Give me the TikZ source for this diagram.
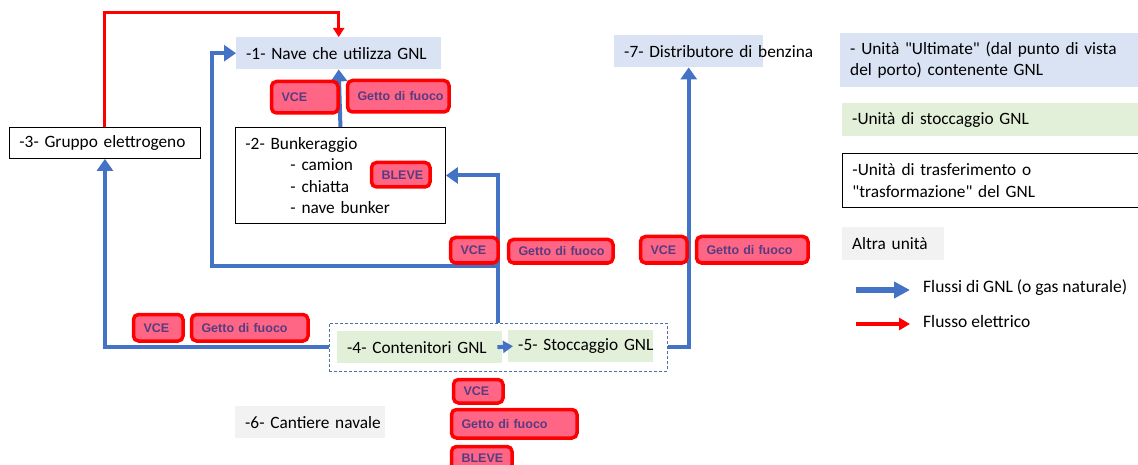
\documentclass[tikz,border=0pt]{standalone}
\usepackage{fontspec}
\setmainfont{Carlito}[Ligatures=TeXOff]
\newfontfamily\hzfont{Liberation Sans}
\usetikzlibrary{arrows.meta}

\definecolor{gnlblue}{HTML}{4472C4}
\definecolor{ultfill}{HTML}{DAE3F3}
\definecolor{stofill}{HTML}{E2F0D9}
\definecolor{othfill}{HTML}{F2F2F2}
\definecolor{hzfill}{HTML}{FF6685}
\definecolor{hztext}{HTML}{573C82}
\definecolor{grpline}{HTML}{4F6FA8}

\tikzset{
  unitbox/.style={anchor=north west, inner xsep=10pt, inner ysep=0pt, align=left,
    font=\fontsize{17.3}{21.5}\selectfont},
  ultimate/.style={unitbox, fill=ultfill},
  storage/.style={unitbox, fill=stofill},
  transfer/.style={unitbox, draw=black, line width=0.9pt, fill=white},
  other/.style={unitbox, fill=othfill},
  hz/.style={anchor=north west, draw=red, line width=3.5pt, fill=hzfill, rounded corners=5pt,
    inner xsep=10pt, inner ysep=0pt, align=left, text=hztext,
    font=\hzfont\bfseries\fontsize{12.5}{14}\selectfont},
  grpbox/.style={anchor=north west, draw=grpline, line width=0.8pt, dash pattern=on 3pt off 2pt, inner sep=0pt},
  flow/.style={draw=gnlblue, line width=4pt, -{Triangle[width=16pt,length=12pt]}},
  elec/.style={draw=red, line width=3pt, -{Triangle[width=11pt,length=9pt]}},
  legtext/.style={anchor=west, inner sep=0pt, font=\fontsize{17.5}{21.5}\selectfont},
}

% unit box given by its corners: style, name, x1, y1, x2, y2, text
\newcommand\unitnode[7]{%
  \pgfmathsetlengthmacro\uW{(#5)-(#3)}%
  \pgfmathsetlengthmacro\uH{(#6)-(#4)}%
  \pgfmathsetlengthmacro\uT{(#5)-(#3)-20}%
  \node[#1, minimum width=\uW, minimum height=\uH, text width=\uT] (#2) at (#3,#4) {#7};}

% hazard tag given by its outer corners: name, x1, y1, x2, y2, text
\newcommand\hazard[6]{%
  \pgfmathsetlengthmacro\hW{(#4)-(#2)-3.5}%
  \pgfmathsetlengthmacro\hH{(#5)-(#3)-3.5}%
  \pgfmathsetlengthmacro\hT{(#4)-(#2)-3.5-20}%
  \node[hz, minimum width=\hW, minimum height=\hH, text width=\hT] (#1) at ({#2+1.75},{#3+1.75}) {\raisebox{-1.5pt}{\mbox{#6}}};}

\begin{document}
\begin{tikzpicture}[x=1pt, y=-1pt]
\useasboundingbox (0,0) rectangle (1138,465);

% port units
\unitnode{ultimate}{n1}{236}{37}{441}{69}{\mbox{-1- Nave che utilizza GNL}}
\unitnode{transfer}{n2}{235}{127}{445}{223}{\mbox{-2- Bunkeraggio}\\\hspace*{45pt}\mbox{- camion}\\\hspace*{45pt}\mbox{- chiatta}\\\hspace*{45pt}\mbox{- nave bunker}}
\unitnode{transfer}{n3}{9}{127}{200}{158}{\mbox{-3- Gruppo elettrogeno}}
\node[grpbox, minimum width=338pt, minimum height=48pt] (grp) at (329,323) {};
\unitnode{storage}{n4}{337}{331}{502}{363}{\mbox{-4- Contenitori GNL}}
\unitnode{storage}{n5}{508}{330}{653}{362}{\mbox{-5- Stoccaggio GNL}}
\unitnode{other}{n6}{235}{406}{385}{438}{\mbox{-6- Cantiere navale}}
\unitnode{ultimate}{n7}{614}{35}{763}{67}{\mbox{-7- Distributore di benzina}}

% legend boxes
\unitnode{ultimate}{l1}{840}{33}{1138}{87}{\mbox{- Unità "Ultimate" (dal punto di vista}\\\mbox{del porto) contenente GNL}}
\unitnode{storage}{l2}{842}{103}{1138}{136}{\mbox{-Unità di stoccaggio GNL}}
\unitnode{transfer}{l3}{842}{153}{1142}{207}{\mbox{-Unità di trasferimento o}\\\mbox{"trasformazione" del GNL}}
\unitnode{other}{l4}{842}{227}{944}{260}{\mbox{Altra unità}}

% electric supply
\coordinate (etop) at (0,13);
\draw[elec] (n3.north) -- (n3.north |- etop) -| (n1.north);

% LNG flows
\coordinate (ring) at (212,266);
\draw[flow] (n2.north) -- (n1.south);
\draw[flow] (grp.north) |- (n2.east);
\draw[flow] (grp.north |- ring) -- (ring) |- (n1.west);
\draw[flow] (grp.west) -| (n3.south);
\draw[flow] (grp.east) -| (n7.south);
\draw[flow, -{Triangle[width=12pt,length=10pt]}] ([xshift=-5pt]n4.east) -- ([xshift=5pt]n5.west);

% hazards
\hazard{hzA1}{268}{78}{338}{113}{VCE}
\hazard{hzA2}{344}{77}{449}{112}{Getto di fuoco}
\hazard{hzA3}{368}{159}{430}{187}{BLEVE}
\hazard{hzB1}{447}{234}{498}{263}{VCE}
\hazard{hzB2}{505}{236}{613}{263}{Getto di fuoco}
\hazard{hzC1}{637}{233}{687}{263}{VCE}
\hazard{hzC2}{693}{233}{808}{263}{Getto di fuoco}
\hazard{hzD1}{130}{311}{183}{341}{VCE}
\hazard{hzD2}{188}{311}{308}{341}{Getto di fuoco}
\hazard{hzE1}{450}{376}{503}{403}{VCE}
\hazard{hzE2}{448}{406}{577}{438}{Getto di fuoco}
\hazard{hzE3}{448}{443}{512}{470}{BLEVE}

% legend arrows
\coordinate (lgA) at (856,290);
\coordinate (lgB) at (910,290);
\draw[flow, line width=6pt, -{Triangle[width=16pt,length=16pt]}] (lgA) -- (lgB);
\node[legtext] (lgAt) at (923,288) {Flussi di GNL (o gas naturale)};
\coordinate (lgC) at (856,324);
\coordinate (lgD) at (910,324);
\draw[elec, line width=4pt, -{Triangle[width=12pt,length=11pt]}] (lgC) -- (lgD);
\node[legtext] (lgCt) at (923,321) {Flusso elettrico};
\end{tikzpicture}
\end{document}
